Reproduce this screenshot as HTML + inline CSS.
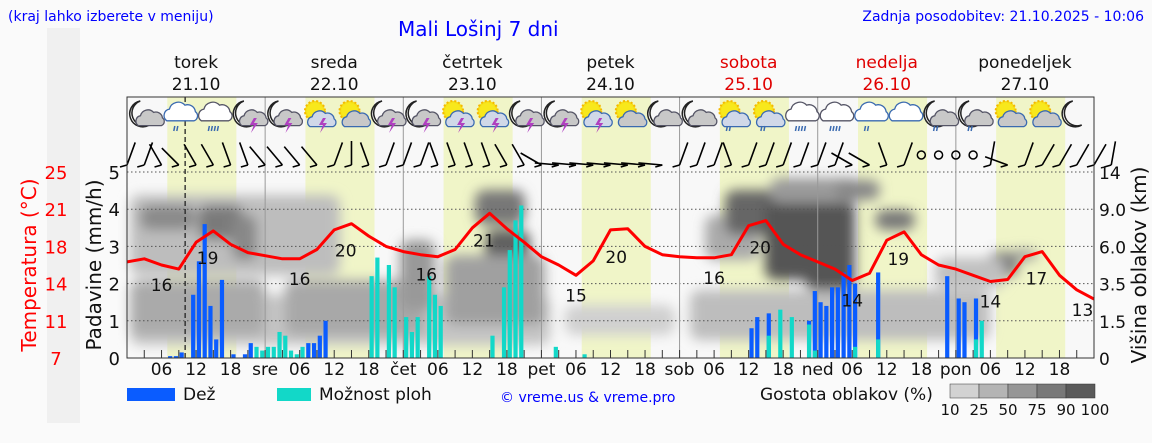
<!DOCTYPE html>
<html><head><meta charset="utf-8">
<style>
body{margin:0;width:1152px;height:443px;background:#fafafa;overflow:hidden;font-family:"DejaVu Sans","Liberation Sans",sans-serif;}
svg{position:absolute;left:0;top:0;}
</style></head>
<body>
<svg id="chart" width="1152" height="443" viewBox="0 0 1152 443">
<defs>
<filter id="blur" x="-20%" y="-20%" width="140%" height="140%"><feGaussianBlur stdDeviation="6"/></filter>
</defs>
<rect x="47" y="28" width="33" height="395" fill="#f0f0f0"/>
<text x="8" y="21" font-size="14" fill="#0000ff">(kraj lahko izberete v meniju)</text>
<text x="398" y="36" font-size="20" fill="#0000ff">Mali Lošinj 7 dni</text>
<text x="1144" y="21" font-size="14" fill="#0000ff" text-anchor="end">Zadnja posodobitev: 21.10.2025 - 10:06</text>
<g id="plotbg"></g>
<g id="clouds" filter="url(#blur)"></g>
<g id="grid"></g>
<g id="bars"></g>
<g id="temp"></g>
<g id="icons"></g>
<g id="wind"></g>
<g id="axes"></g>
<g id="legend"></g>
</svg>
<script>
// ---- data ----
const dayNames = ["torek","sreda","četrtek","petek","sobota","nedelja","ponedeljek"];
const dayDates = ["21.10","22.10","23.10","24.10","25.10","26.10","27.10"];
const dayAbbr = ["sre","čet","pet","sob","ned","pon"];
const hourTicks = ["06","12","18"];
const precipTicks = [0,1,2,3,4,5];
const tempTickLabels = ["7","11","14","18","21","25"];
const cloudHeightLabels = ["0","1.5","3.5","6.0","9.0","14"];
// temperature every 3 h from Tue 00:00
const temps = [16.3,16.6,16.0,15.6,18.2,19.3,18.0,17.2,
 16.9,16.6,16.6,17.5,19.4,20.0,18.8,17.8,
 17.3,17.0,16.8,17.5,19.6,21.0,19.5,18.2,
 16.8,16.0,15.0,16.4,19.4,19.5,17.8,17.0,
 16.8,16.7,16.7,17.0,19.8,20.3,18.0,17.0,
 16.3,15.6,14.5,15.2,18.4,19.2,17.0,16.0,
 15.6,15.0,14.4,14.6,16.8,17.3,15.0,13.6,12.7];
const tempLabelHours = [6,14,30,38,52,62,78,85,102,110,126,134,150,158,166];
const tempLabelValues = [16,19,16,20,16,21,15,20,16,20,14,19,14,17,13];
const rainHours = [7,8,9,11,12,13,14,15,16,18,20,21,31,32,33,34,108,109,111,118,119,120,121,122,123,124,125,126,130,142,144,145,147];
const rainValues = [0.05,0.05,0.15,1.7,2.6,3.6,1.4,0.5,2.1,0.1,0.1,0.4,0.4,0.4,0.6,1.0,0.8,1.1,1.2,1.0,1.8,1.5,1.4,1.9,1.9,2.3,2.5,2.0,2.3,2.2,1.6,1.5,1.6];
const stormHours = [22,23,24,25,26,27,28,29,30,42,43,45,46,48,49,50,52,53,54,63,65,66,67,68,74,79,111,113,115,118,119,126,130,147,148];
const stormValues = [0.3,0.2,0.3,0.3,0.7,0.6,0.2,0.1,0.3,2.2,2.7,2.5,1.9,1.1,0.7,1.1,2.2,1.7,1.4,0.6,1.9,2.9,3.7,4.1,0.3,0.1,0.6,1.3,1.1,0.9,0.2,0.3,0.5,0.5,1.0];
const iconTypes = ["mc","r","rh","ms","ms","ss","sc","ms","ms","ss","ss","ms","ms","ss","sc","mc","mc","sr","sr","rh","rh","r","c","mr","mr","sc","sc","m"];
const windDirs = [200,200,150,135,150,150,160,160,140,140,140,140,200,180,160,200,200,200,160,160,160,160,150,150,120,95,95,95,95,95,95,95,200,200,200,160,200,200,200,200,200,200,120,120,160,200,-1,-1,-1,-1,190,110,200,210,210,210,210,190];
// ---- geometry ----
const X0=127, X1=1094, Y0=358, YT=172, TOP=97;
const pxH=(X1-X0)/168;
const xH = h => X0 + h*pxH;
const yP = v => Y0 - v*(Y0-YT)/5;
const yT = t => Y0 - (t-7)*(Y0-YT)/18;
const NS="http://www.w3.org/2000/svg";
function mk(tag,attrs,parent,txt){const e=document.createElementNS(NS,tag);for(const k in attrs)e.setAttribute(k,attrs[k]);if(txt!==undefined)e.textContent=txt;parent.appendChild(e);return e;}
const g=id=>document.getElementById(id);

// plot background + day bands
const bg=g("plotbg");
let r=mk("rect",{x:X0,y:TOP,width:X1-X0,height:Y0-TOP,fill:"#f8f8f8"},bg);


for(let d=0;d<7;d++){
  let b=mk("rect",{x:xH(d*24+7),y:TOP,width:12*pxH,height:Y0-TOP,fill:"#f0f5c8"},bg);
  
  
}
// cloud blobs (decorative density map)
const cl=g("clouds");
const blobs=[
 [130,295,420,50,"#c4c4c4"],[565,305,110,30,"#d0d0d0"],[690,290,300,50,"#bdbdbd"],
 [130,195,210,80,"#bdbdbd"],[140,205,55,25,"#8a8a8a"],[198,205,45,35,"#7a7a7a"],[232,215,25,45,"#888"],
 [130,280,135,55,"#aaa"],[285,280,140,55,"#a8a8a8"],[400,240,35,70,"#999"],
 [475,190,50,35,"#777"],[485,230,45,75,"#5e5e5e"],[445,255,100,70,"#a0a0a0"],
 [705,215,55,45,"#aaa"],[725,190,95,45,"#666"],[765,200,90,80,"#555"],[805,235,50,55,"#555"],
 [770,178,90,25,"#9a9a9a"],[835,180,45,20,"#888"],[875,210,40,20,"#777"],
 [988,252,30,25,"#777"],[1010,250,28,10,"#999"],[935,258,70,30,"#c0c0c0"]
];
blobs.forEach(b=>{mk("rect",{x:b[0],y:b[1],width:b[2],height:b[3],fill:b[4],rx:10},cl);});

// grid
const gr=g("grid");
precipTicks.slice(1).forEach(v=>{
  let l=mk("line",{x1:X0,x2:X1,y1:yP(v),y2:yP(v),stroke:"#555","stroke-dasharray":"1.5,2.5","stroke-width":1},gr);
  
  
});
for(let d=1;d<7;d++){
  let l=mk("line",{x1:xH(d*24),x2:xH(d*24),y1:TOP,y2:Y0,stroke:"#999","stroke-width":1},gr);
  
  
}
let now=mk("line",{x1:xH(10.1),x2:xH(10.1),y1:TOP,y2:Y0,stroke:"#222","stroke-width":1.3,"stroke-dasharray":"5,3"},gr);



// bars
const bw=4.2;
const bars=g("bars");
rainHours.forEach((h,i)=>{
  let b=mk("rect",{x:xH(h+0.5)-bw/2,y:yP(rainValues[i]),width:bw,height:Y0-yP(rainValues[i]),fill:"#0a5cff"},bars);
  
  
});
stormHours.forEach((h,i)=>{
  let b=mk("rect",{x:xH(h+0.5)-bw/2,y:yP(stormValues[i]),width:bw,height:Y0-yP(stormValues[i]),fill:"#12d8c8"},bars);
  
  
});

// temperature line
const tg=g("temp");
let pts=temps.map((t,i)=>xH(i*3).toFixed(1)+","+yT(t).toFixed(1)).join(" ");
let pl=mk("polyline",{points:pts,fill:"none",stroke:"#ff0000","stroke-width":3,"stroke-linejoin":"round"},tg);


tempLabelHours.forEach((h,i)=>{
  const isMax = i%2===1;
  const t=temps[Math.min(56,Math.round(h/3))];
  let tx=mk("text",{x:xH(h),y:yT(t)+(isMax?33:26),"font-size":17,"text-anchor":"middle",fill:"#111"},tg,String(tempLabelValues[i]));
  
  
});

// icons
const ic=g("icons");
function cloud(p,cx,cy,s,fill,stroke){
  mk("path",{d:`M${cx-10*s},${cy+6*s} a${5*s},${5*s} 0 0 1 ${2*s},${-9*s} a${7*s},${7*s} 0 0 1 ${12*s},${-3*s} a${6*s},${6*s} 0 0 1 ${8*s},${5*s} a${4*s},${4*s} 0 0 1 ${-1*s},${7*s} z`,fill:fill,stroke:stroke,"stroke-width":1.3},p);
}
iconTypes.forEach((t,i)=>{
  const cx=xH(i*6+3), cy=116;
  const p=mk("g",{},ic);
  
  
  if(t[0]==="m"){
    mk("path",{d:`M${cx-4},${cy-15} a13,13 0 1 0 9,24 a11,11 0 0 1 -9,-24 z`,fill:"#fff",stroke:"#222","stroke-width":1.5},p);
    if(t!=="m") cloud(p,cx+5,cy+3,1.1,"#c8c8c8","#556");
  } else if(t[0]==="s"){
    mk("circle",{cx:cx-2,cy:cy-5,r:10,fill:"#f5e21a",stroke:"#f5b800","stroke-width":2,"stroke-dasharray":"2,2"},p);
    mk("circle",{cx:cx-2,cy:cy-5,r:8,fill:"#f8e81c"},p);
    cloud(p,cx+4,cy+4,1.1,t==="sc"?"#c8c8c8":"#d0d8e8","#3a6ab0");
  } else {
    cloud(p,cx+1,cy-3,1.3,t==="r"||t==="rh"?"#fff":"#fff",t==="rh"?"#556":"#3a6ab0");
  }
  if(t==="ms"||t==="ss"){
    mk("path",{d:`M${cx+6},${cy+2} l-4,7 h4 l-3,8 l7,-10 h-4 l3,-5z`,fill:"#b040c0"},p);
  }
  if(t==="r"||t==="sr"||t==="mr"||t==="rh"){
    const n=t==="rh"?4:2;
    for(let k=0;k<n;k++) mk("line",{x1:cx-4+k*3,y1:cy+10,x2:cx-5+k*3,y2:cy+15,stroke:"#3a6ab0","stroke-width":1.5},p);
  }
});

// wind barbs
const wg=g("wind");
windDirs.forEach((a,i)=>{
  const x=xH(i*3), y=165;
  const p=mk("g",{},wg);
  
  
  if(a<0){ mk("circle",{cx:x,cy:155,r:4,fill:"none",stroke:"#000","stroke-width":1.5},p); return; }
  const rad=(a-90)*Math.PI/180, L=24;
  const x2=x+Math.cos(rad)*L*-1, y2=y-Math.abs(Math.sin(rad))*L;
  mk("line",{x1:x,y1:y,x2:x2,y2:y2,stroke:"#000","stroke-width":1.6},p);
  mk("line",{x1:x,y1:y,x2:x-7,y2:y+2,stroke:"#000","stroke-width":1.6},p);
});

// axes
const ax=g("axes");
let fr=mk("rect",{x:X0,y:TOP,width:X1-X0,height:Y0-TOP,fill:"none",stroke:"#333","stroke-width":1},ax);


for(let h=3;h<168;h+=3){
  mk("line",{x1:xH(h),x2:xH(h),y1:Y0,y2:Y0-8,stroke:"#333"},ax);
}
for(let d=0;d<7;d++){
  hourTicks.forEach((lab,k)=>{
    let t=mk("text",{x:xH(d*24+6*(k+1)),y:375,"font-size":17,"text-anchor":"middle",fill:"#111"},ax,lab);
    
    
  });
  if(d>0){
    let t=mk("text",{x:xH(d*24),y:375,"font-size":17,"text-anchor":"middle",fill:"#111"},ax,dayAbbr[d-1]);
    
    
  }
  const col=(d===4||d===5)?"#e00000":"#111";
  let n=mk("text",{x:xH(d*24+12),y:68,"font-size":17,"text-anchor":"middle",fill:col},ax,dayNames[d]);
  
  
  let dt=mk("text",{x:xH(d*24+12),y:90,"font-size":17,"text-anchor":"middle",fill:col},ax,dayDates[d]);
  
  
}
precipTicks.forEach((v,i)=>{
  let t=mk("text",{x:120,y:yP(v)+7,"font-size":18,"text-anchor":"end",fill:"#111"},ax,String(v));
  
  
  let tt=mk("text",{x:56,y:yP(v)+7,"font-size":18,"text-anchor":"middle",fill:"#ff0000"},ax,tempTickLabels[i]);
  
  
  let ct=mk("text",{x:1099,y:yP(v)+7,"font-size":17,fill:"#111"},ax,cloudHeightLabels[i]);
  
  
});
let yl=mk("text",{x:0,y:0,"font-size":20,"text-anchor":"middle",fill:"#111",transform:"translate(101,265) rotate(-90)"},ax,"Padavine (mm/h)");


let tl=mk("text",{x:0,y:0,"font-size":20,"text-anchor":"middle",fill:"#ff0000",transform:"translate(36,265) rotate(-90)"},ax,"Temperatura (°C)");


let rl=mk("text",{x:0,y:0,"font-size":20,"text-anchor":"middle",fill:"#111",transform:"translate(1146,265) rotate(-90)"},ax,"Višina oblakov (km)");



// legend
const lg=g("legend");
function leg(tag,attrs,txt,name){let e=mk(tag,attrs,lg,txt);return e;}
leg("rect",{x:127,y:388,width:48,height:13,fill:"#0a5cff"},undefined,"legend-rain-swatch");
leg("text",{x:183,y:400,"font-size":17,fill:"#111"},"Dež","legend-rain-label");
leg("rect",{x:277,y:388,width:34,height:13,fill:"#12d8c8"},undefined,"legend-storm-swatch");
leg("text",{x:319,y:400,"font-size":17,fill:"#111"},"Možnost ploh","legend-storm-label");
leg("text",{x:500,y:402,"font-size":14,fill:"#0000ff"},"© vreme.us & vreme.pro","copyright");
leg("text",{x:760,y:400,"font-size":17,fill:"#111"},"Gostota oblakov (%)","legend-cloud-title");
const shades=["#d2d2d2","#b4b4b4","#969696","#787878","#5a5a5a"];
const shadeLabels=["10","25","50","75","90","100"];
shades.forEach((c,i)=>{leg("rect",{x:950+i*29,y:384,width:29,height:14,fill:c,stroke:"#333","stroke-width":0.5},undefined,"legend-cloud-swatch");});
shadeLabels.forEach((s,i)=>{leg("text",{x:950+i*29,y:415,"font-size":15,"text-anchor":"middle",fill:"#111"},s,"legend-cloud-tick");});
</script>
</body></html>
